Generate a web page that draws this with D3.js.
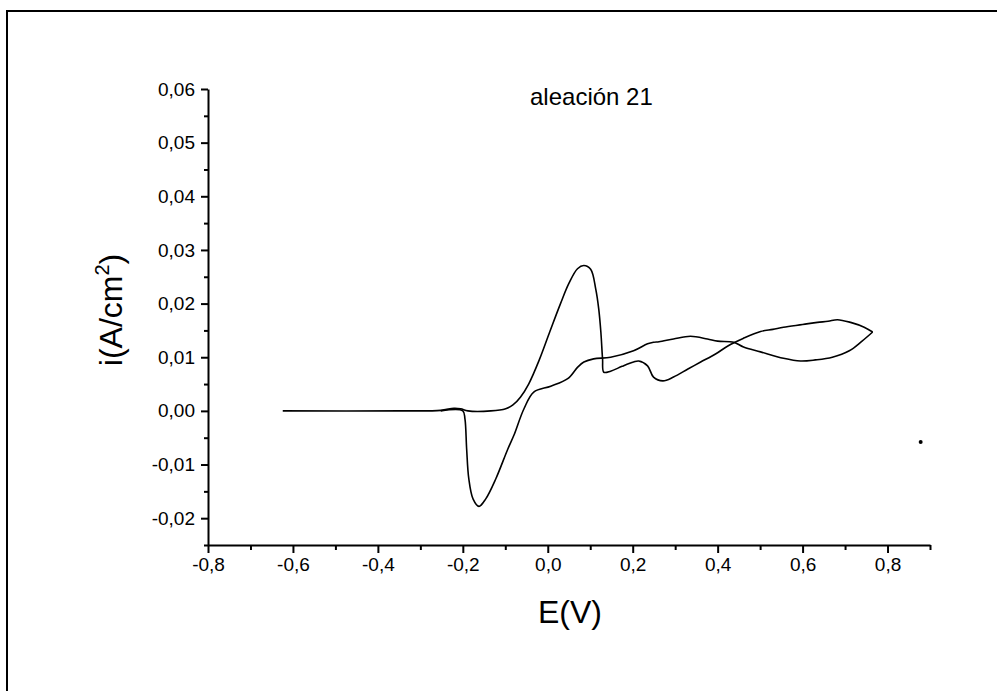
<!doctype html>
<html>
  <head>
    <style>
      body { margin: 0; background: white; }
      text { font-family: Arial, "Liberation Sans", Helvetica, sans-serif; fill: black; }
      .axis path, .axis line { stroke: black; stroke-width: 2px; }
      .axis text { font-size: 19px; }
    </style>
    <script src="https://cdnjs.cloudflare.com/ajax/libs/d3/7.8.5/d3.min.js"></script>
  </head>
  <body>
    <div id="chart"></div>
    <script>
      var width = 997, height = 691;

      // forward scan (E in V, i in A/cm2)
      var fwdE = [-0.624, -0.346, -0.252, -0.221, -0.205, -0.188, -0.134, -0.099, -0.082, -0.064,
                  -0.045, -0.020, 0.005, 0.030, 0.050, 0.070, 0.085, 0.101, 0.113, 0.120, 0.125,
                  0.129, 0.132, 0.148, 0.175, 0.202, 0.214, 0.235, 0.249, 0.271, 0.296,
                  0.330, 0.360, 0.395, 0.424, 0.460, 0.501, 0.530, 0.555, 0.600, 0.635,
                  0.660, 0.682, 0.713, 0.745, 0.765];
      var fwdI = [0.0, 0.0, 0.0001, 0.0005, 0.0004, 0.0, 0.0, 0.0004, 0.0011, 0.0026,
                  0.005, 0.0095, 0.0148, 0.020, 0.0238, 0.0265, 0.0271, 0.0264, 0.0227, 0.019, 0.0147,
                  0.0097, 0.0072, 0.0074, 0.0083, 0.0091, 0.0093, 0.0084, 0.0063, 0.0056, 0.0063,
                  0.0078, 0.0091, 0.0106, 0.0121, 0.0135, 0.0148, 0.0152, 0.0156, 0.0161, 0.0165,
                  0.0167, 0.0170, 0.0165, 0.0156, 0.0147];
      // reverse scan
      var revE = [0.765, 0.740, 0.710, 0.670, 0.630, 0.595, 0.555, 0.501, 0.461, 0.438,
                  0.400, 0.376, 0.336, 0.296, 0.262, 0.249, 0.235, 0.202, 0.148, 0.108,
                  0.085, 0.071, 0.047, 0.007, -0.033, -0.056, -0.080, -0.094, -0.122, -0.146,
                  -0.162, -0.176, -0.186, -0.191, -0.195, -0.200, -0.252];
      var revI = [0.0147, 0.0130, 0.0112, 0.0100, 0.0095, 0.0093, 0.0098, 0.011, 0.0119, 0.0128,
                  0.013, 0.0134, 0.0139, 0.0134, 0.0129, 0.0128, 0.0125, 0.0112, 0.0100, 0.0097,
                  0.0091, 0.0082, 0.006, 0.0046, 0.0035, 0.0004, -0.0046, -0.0071, -0.0126, -0.0164,
                  -0.0178, -0.0164, -0.0126, -0.0071, -0.0015, 0.0, 0.0];
      // stray dot on the scan
      var dotE = [0.878], dotI = [-0.0058];

      var xTicks = [-0.8, -0.6, -0.4, -0.2, 0.0, 0.2, 0.4, 0.6, 0.8];
      var yTicks = [-0.02, -0.01, 0.0, 0.01, 0.02, 0.03, 0.04, 0.05, 0.06];
      var titleText = "aleación 21";

      var svg = d3.select("#chart").append("svg")
                  .attr("width", width)
                  .attr("height", height);

      // page frame
      svg.append("path")
         .attr("d", "M7,691 L7,11 L997,11")
         .attr("fill", "none")
         .attr("stroke", "black")
         .attr("stroke-width", 2);

      var x = d3.scaleLinear().domain([-0.8, 0.9]).range([208, 930]);
      var y = d3.scaleLinear().domain([-0.025, 0.06]).range([545, 89]);

      var locale = d3.formatLocale({decimal: ",", thousands: ".", grouping: [3], currency: ["", ""], minus: "-"});
      var fx = locale.format(".1f"), fy = locale.format(".2f");

      // minor ticks first
      svg.append("g").attr("class", "axis")
         .attr("transform", "translate(0,545)")
         .call(d3.axisBottom(x).tickValues(d3.range(-0.7, 0.95, 0.2)).tickSize(5).tickFormat(""))
         .select(".domain").remove();
      svg.append("g").attr("class", "axis")
         .attr("transform", "translate(208,0)")
         .call(d3.axisLeft(y).tickValues(d3.range(-0.025, 0.06, 0.01)).tickSize(4).tickFormat(""))
         .select(".domain").remove();

      svg.append("g").attr("class", "axis")
         .attr("transform", "translate(0,545)")
         .call(d3.axisBottom(x).tickValues(xTicks).tickSize(8).tickSizeOuter(0).tickPadding(5).tickFormat(fx))
         .attr("font-size", null);
      svg.append("g").attr("class", "axis")
         .attr("transform", "translate(208,0)")
         .call(d3.axisLeft(y).tickValues(yTicks).tickSize(7).tickSizeOuter(0).tickPadding(6).tickFormat(fy))
         .attr("font-size", null);

      var line = d3.line()
                   .x(function(d) { return x(d[0]); })
                   .y(function(d) { return y(d[1]); })
                   .curve(d3.curveCatmullRom.alpha(0.5));

      var fwd = fwdE.map(function(e, i) { return [e, fwdI[i]]; });
      var rev = revE.map(function(e, i) { return [e, revI[i]]; });

      [fwd, rev].forEach(function(pts) {
        svg.append("path")
           .datum(pts)
           .attr("d", line)
           .attr("fill", "none")
           .attr("stroke", "black")
           .attr("stroke-width", 1.6);
      });

      svg.selectAll(".dot")
         .data(dotE)
         .enter().append("circle")
         .attr("class", "dot")
         .attr("cx", function(d) { return x(d); })
         .attr("cy", function(d, i) { return y(dotI[i]); })
         .attr("r", 2);

      // title and axis labels
      svg.append("text")
         .attr("x", 530).attr("y", 105)
         .style("font-size", "24px")
         .text(titleText);

      svg.append("text")
         .attr("x", 570).attr("y", 623)
         .attr("text-anchor", "middle")
         .style("font-size", "32px")
         .text("E(V)");

      var yl = svg.append("text")
         .attr("transform", "translate(122,310) rotate(-90)")
         .attr("text-anchor", "middle")
         .style("font-size", "32px");
      yl.append("tspan").text("i(A/cm");
      yl.append("tspan").attr("dy", -13).style("font-size", "20px").text("2");
      yl.append("tspan").attr("dy", 13).text(")");
    </script>
  </body>
</html>
